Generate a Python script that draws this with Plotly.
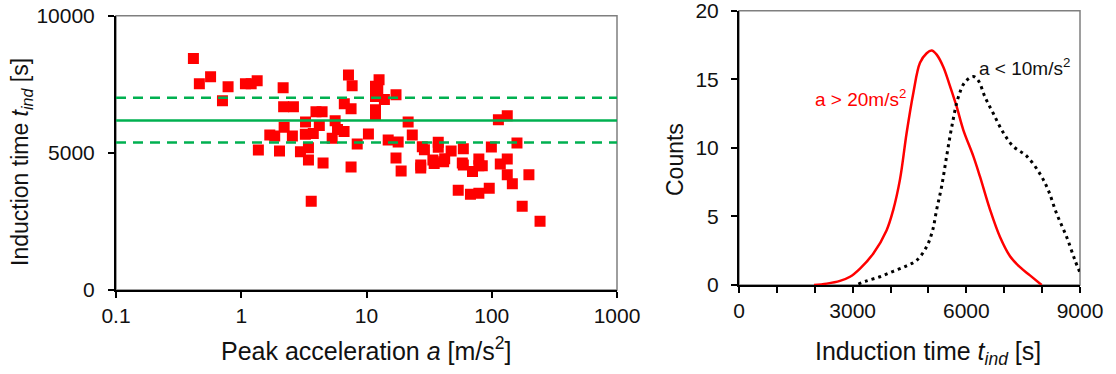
import plotly.graph_objects as go

# ---- left panel data: peak acceleration vs induction time ----
accel = [0.415, 0.463, 0.569, 0.785, 0.708, 1.08, 1.20, 1.34, 2.16, 2.18, 2.61, 2.20,
         1.69, 1.85, 2.56, 1.37, 2.02, 2.97, 3.26, 3.25, 3.76, 3.44, 3.44, 3.62,
         3.95, 4.42, 4.20, 4.50, 5.62, 5.87, 5.32, 6.62, 7.18, 7.68, 6.65, 7.53,
         8.43, 7.53, 10.36, 12.6, 11.8, 12.3, 11.8, 13.9, 11.8, 11.8, 17.2, 21.5,
         23.2, 14.9, 17.9, 17.2, 18.9, 27.9, 29.0, 37.4, 37.4, 47.4, 59.3, 33.9,
         34.7, 41.3, 42.1, 27.1, 27.1, 58.2, 59.3, 70.2, 78.9, 78.9, 84.0, 54.0,
         67.6, 78.9, 95.5, 99.3, 113, 133, 117, 133, 133, 146, 159, 175, 198, 243]
t_ind = [8437, 7521, 7778, 7411, 6899, 7521, 7521, 7631, 7375, 6679, 6679, 5934,
         5653, 5617, 5617, 5104, 5067, 5043, 6129, 5677, 5702, 5189, 4737, 3236,
         6496, 6496, 5995, 4628, 6166, 5849, 5531, 5775, 7839, 7448, 6789, 6606,
         5324, 4481, 5690, 7668, 7424, 7277, 7057, 6948, 6569, 6398, 7118, 6129,
         5653, 5470, 5397, 4811, 4335, 5226, 5116, 5385, 5201, 5067, 5153, 4737,
         4615, 4676, 4786, 4554, 4444, 4627, 4554, 4322, 4774, 4530, 4530, 3638,
         3492, 3529, 3712, 5214, 6203, 6349, 4591, 4774, 4200, 3871, 5360, 3053,
         4200, 2503]
t_mean = 6180
t_upper = 7005
t_lower = 5380

left_xticks = [0.1, 1, 10, 100, 1000]
left_xtext = ["0.1", "1", "10", "100", "1000"]
left_yticks = [0, 5000, 10000]
left_ytext = ["0", "5000", "10000"]

# ---- right panel data: distribution curves ----
hi_x = [1980, 2314, 2665, 2930, 3194, 3546, 3897, 4073, 4249, 4425, 4601, 4777, 4953,
        5085, 5217, 5393, 5569, 5745, 5921, 6184, 6361, 6625, 6889, 7153, 7417, 7680, 7988]
hi_y = [0.0, 0.1, 0.3, 0.6, 1.2, 2.3, 4.0, 5.5, 7.7, 11.1, 14.0, 16.2, 16.9,
        17.1, 16.8, 15.9, 14.5, 13.0, 11.3, 9.4, 7.9, 5.5, 3.5, 2.1, 1.3, 0.7, 0.0]
lo_x = [3150, 3370, 3722, 4073, 4425, 4689, 4953, 5111, 5217, 5349, 5481, 5613, 5789,
        5965, 6184, 6317, 6493, 6713, 6977, 7241, 7593, 7944, 8164, 8384, 8648, 8868, 9000]
lo_y = [0.07, 0.3, 0.6, 1.0, 1.4, 1.8, 2.8, 4.0, 5.5, 7.2, 9.4, 11.5, 13.7,
        14.8, 15.2, 14.9, 13.7, 12.5, 11.1, 10.1, 9.4, 8.1, 6.9, 5.2, 3.5, 1.8, 0.9]
right_xticks = [0, 3000, 6000, 9000]
right_xtext = ["0", "3000", "6000", "9000"]
right_xminor = 1000
right_yticks = [0, 5, 10, 15, 20]
right_ytext = ["0", "5", "10", "15", "20"]

FONT = "Liberation Sans, Arial, sans-serif"
TXT = "#111111"
GREEN = "#00B050"
RED = "#FF0000"

fig = go.Figure()

fig.add_trace(go.Scatter(x=accel, y=t_ind, mode="markers", xaxis="x", yaxis="y",
                         marker=dict(symbol="square", size=11, color=RED, line=dict(width=0)),
                         showlegend=False, cliponaxis=True))

fig.add_trace(go.Scatter(x=hi_x, y=hi_y, mode="lines", xaxis="x2", yaxis="y2",
                         line=dict(color=RED, width=2.5, shape="spline", smoothing=1.0),
                         showlegend=False))
fig.add_trace(go.Scatter(x=lo_x, y=lo_y, mode="lines", xaxis="x2", yaxis="y2",
                         line=dict(color="black", width=3, shape="spline", smoothing=1.0,
                                   dash="3px,4px"),
                         showlegend=False))

W, H = 1116, 374
L_x0, L_x1, L_ytop, L_ybot = 116, 617, 15.7, 290
R_x0, R_x1, R_ytop, R_ybot = 739, 1080, 10.7, 285

axis_common = dict(showgrid=False, zeroline=False, showline=True, linecolor="black",
                   linewidth=2, ticks="outside", ticklen=6, tickwidth=1.5, automargin=False,
                   ticklabeloverflow="allow",
                   tickcolor="black", tickfont=dict(family=FONT, size=21, color=TXT))

fig.update_layout(
    width=W, height=H, margin=dict(l=0, r=0, t=0, b=0, autoexpand=False),
    paper_bgcolor="white", plot_bgcolor="white",
    xaxis=dict(domain=[L_x0 / W, L_x1 / W], type="log", range=[-1, 3],
               tickvals=left_xticks, ticktext=left_xtext, anchor="y", **axis_common),
    yaxis=dict(domain=[1 - L_ybot / H, 1 - L_ytop / H], range=[0, 10000],
               tickvals=left_yticks, ticktext=left_ytext, anchor="x",
               ticklabelstandoff=9, **axis_common),
    xaxis2=dict(domain=[R_x0 / W, R_x1 / W], range=[0, 9000],
                tickvals=right_xticks, ticktext=right_xtext, anchor="y2",
                minor=dict(dtick=right_xminor, ticks="outside", ticklen=6, tickwidth=1.5,
                           tickcolor="black", showgrid=False),
                **axis_common),
    yaxis2=dict(domain=[1 - R_ybot / H, 1 - R_ytop / H], range=[0, 20],
                tickvals=right_yticks, ticktext=right_ytext, anchor="x2",
                ticklabelstandoff=8, **axis_common),
)

# frames (top/right thin grey)
for xr, yr in (("x", "y"), ("x2", "y2")):
    fig.add_shape(type="rect", xref=f"{xr} domain", yref=f"{yr} domain",
                  x0=0, x1=1, y0=0, y1=1, line=dict(color="#7f7f7f", width=1.5), layer="below")

# mean and band lines
fig.add_shape(type="line", xref="x domain", yref="y", x0=0, x1=1, y0=t_mean, y1=t_mean,
              line=dict(color=GREEN, width=2.5))
for v in (t_upper, t_lower):
    fig.add_shape(type="line", xref="x domain", yref="y", x0=0, x1=1, y0=v, y1=v,
                  line=dict(color=GREEN, width=2.5, dash="10px,7px"))

vfont = dict(family=FONT, size=23, color=TXT)
hfont = dict(family=FONT, size=25, color=TXT)
fig.add_annotation(text="Induction time <i>t</i><sub><i>ind</i></sub> [s]", textangle=-90,
                   xref="paper", yref="paper", x=22 / W, y=1 - 162 / H,
                   showarrow=False, font=vfont, xanchor="center", yanchor="middle")
fig.add_annotation(text="Peak acceleration <i>a</i> [m/s<sup>2</sup>]",
                   xref="paper", yref="paper", x=366 / W, y=1 - 349 / H,
                   showarrow=False, font=hfont, xanchor="center", yanchor="middle")
fig.add_annotation(text="Counts", textangle=-90,
                   xref="paper", yref="paper", x=675 / W, y=1 - 160 / H,
                   showarrow=False, font=vfont, xanchor="center", yanchor="middle")
fig.add_annotation(text="Induction time <i>t</i><sub><i>ind</i></sub> [s]",
                   xref="paper", yref="paper", x=928 / W, y=1 - 353 / H,
                   showarrow=False, font=hfont, xanchor="center", yanchor="middle")

fig.add_annotation(text="a > 20m/s<sup>2</sup>", xref="x2", yref="y2", x=1950, y=13.6,
                   showarrow=False, xanchor="left", yanchor="middle",
                   font=dict(family=FONT, size=19, color=RED))
fig.add_annotation(text="a < 10m/s<sup>2</sup>", xref="x2", yref="y2", x=6270, y=15.9,
                   showarrow=False, xanchor="left", yanchor="middle",
                   font=dict(family=FONT, size=19, color=TXT))

fig.write_html("out.html")
